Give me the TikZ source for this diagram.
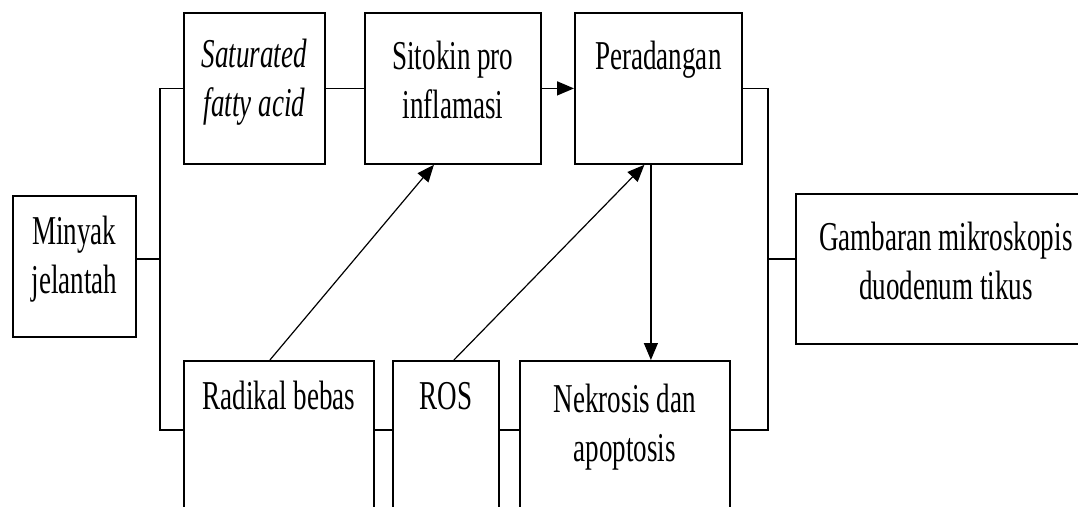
\documentclass[tikz,border=0pt]{standalone}
\usepackage{fontspec}
\setmainfont{Liberation Serif}[FakeStretch=0.66]
\usetikzlibrary{arrows.meta}
\tikzstyle{kotak} = [align=center,draw=black,rectangle,line width=1.8pt,inner sep=0pt,anchor=north west,font=\fontsize{41}{49}\selectfont]
\tikzstyle{garis} = [line width=1.5pt]
\tikzstyle{panah} = [line width=1.2pt,-{Triangle[length=17pt,width=14pt]}]

\begin{document}
\begin{tikzpicture}[x=1pt,y=1pt]
				\useasboundingbox (0,0) rectangle (1078,-506);
				\node (minyak) [kotak,minimum width=123pt,text height=98pt,text depth=43pt] at (12,-195) {Minyak\\jelantah};
				\node (sfa) [kotak,minimum width=141pt,text height=104pt,text depth=47pt] at (183,-12) {\itshape Saturated\\\itshape fatty acid};
				\node (sitokin) [kotak,minimum width=176pt,text height=106pt,text depth=45pt] at (364,-12) {Sitokin pro\\inflamasi};
				\node (perad) [kotak,minimum width=167pt,text height=57pt,text depth=94pt] at (574,-12) {Peradangan};
				\node (gambaran) [kotak,minimum width=300pt,text height=106pt,text depth=44pt] at (795,-193) {Gambaran mikroskopis\\duodenum tikus};
				\node (radikal) [kotak,minimum width=190pt,text height=49pt,text depth=131pt] at (183,-360) {Radikal bebas};
				\node (ros) [kotak,minimum width=106pt,text height=49pt,text depth=131pt] at (392,-360) {ROS};
				\node (nekrosis) [kotak,minimum width=210pt,text height=101pt,text depth=79pt] at (519,-360) {Nekrosis dan\\apoptosis};
				\coordinate (busKiri) at (160,-259);
				\coordinate (busKanan) at (768,-259);
				\coordinate (bawah) at (0,-430);
				\draw [garis] (minyak.east |- busKiri) -- (busKiri);
				\draw [garis] (sfa.west) -| (busKiri) |- (radikal.west |- bawah);
				\draw [garis] (sfa.east) -- (sitokin.west);
				\draw [panah,line width=1.5pt] (sitokin.east) -- (perad.west);
				\draw [garis] (radikal.east |- bawah) -- (ros.west |- bawah);
				\draw [garis] (ros.east |- bawah) -- (nekrosis.west |- bawah);
				\draw [panah] ([xshift=-9pt]radikal.north) -- ([xshift=-19pt]sitokin.south);
				\draw [panah] ([xshift=8pt]ros.north) -- ([xshift=-14pt]perad.south);
				\draw [panah] ([xshift=-7.5pt]perad.south) -- ([xshift=-7.5pt]perad.south |- nekrosis.north);
				\draw [garis] (perad.east) -| (busKanan) |- (nekrosis.east |- bawah);
				\draw [garis] (busKanan) -- (gambaran.west |- busKanan);
			\end{tikzpicture}
\end{document}
